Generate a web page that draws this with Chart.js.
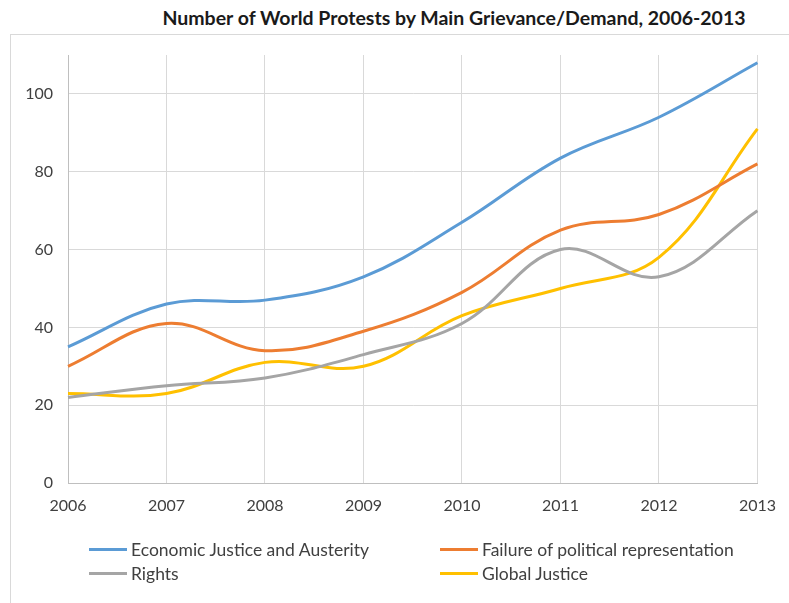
<!DOCTYPE html>
<html>
<head>
<meta charset="utf-8">
<script src="https://cdn.jsdelivr.net/npm/chart.js@4/dist/chart.umd.min.js"></script>
<style>
  body { margin: 0; background: #fff; }
  #wrap { position: relative; width: 789px; height: 603px; overflow: hidden; }
  #frame { position: absolute; left: 10px; top: 34px; width: 800px; height: 600px;
           border-left: 1px solid #d9d9d9; border-top: 1px solid #d9d9d9; }
  #myChart { position: absolute; left: 0; top: 0; }
  #titulo { position: absolute; left: 454px; top: 6px; transform: translateX(-50%);
            white-space: nowrap; font-family: Lato, sans-serif; font-weight: bold;
            font-size: 19.5px; color: #1a1a1a; }
  #legend { position: absolute; left: 89px; top: 539px; width: 690px;
            display: grid; grid-template-columns: 351px auto; row-gap: 3px;
            font-family: Lato, sans-serif; font-size: 17.5px; color: #404040; }
  #legend div { display: flex; align-items: center; height: 21px; }
  #legend span.ln { display: inline-block; width: 38px; height: 3px; margin-right: 4px; }
</style>
</head>
<body>
<div id="wrap">
  <div id="frame"></div>
  <div id="titulo">Number of World Protests by Main Grievance/Demand, 2006-2013</div>
  <canvas id="myChart" width="789" height="603"></canvas>
  <div id="legend"></div>
</div>
<script>
// datos
var years = ['2006', '2007', '2008', '2009', '2010', '2011', '2012', '2013'];
var economica = [35, 46, 47, 53, 67, 83.5, 94, 108];
var representacion = [30, 41, 34, 39, 49, 65, 69, 82];
var derechos = [22, 25, 27, 33, 41, 60, 53, 70];
var justiciaGlobal = [23, 23, 31, 30, 43, 50, 58, 91];
var yTicks = [0, 20, 40, 60, 80, 100];

var series = [
  { label: 'Economic Justice and Austerity', data: economica, color: '#5B9BD5' },
  { label: 'Failure of political representation', data: representacion, color: '#ED7D31' },
  { label: 'Rights', data: derechos, color: '#A5A5A5' },
  { label: 'Global Justice', data: justiciaGlobal, color: '#FFC000' }
];

var datasets = series.map(function(s) {
  return {
    label: s.label,
    data: s.data,
    borderColor: s.color,
    backgroundColor: s.color,
    borderWidth: 3,
    pointRadius: 0,
    tension: 0.38,
    fill: false
  };
});

var ctx = document.getElementById('myChart').getContext('2d');
var myChart = new Chart(ctx, {
  type: 'line',
  data: { labels: years, datasets: datasets },
  options: {
    responsive: false,
    animation: false,
    layout: { padding: { left: 0, right: 29, top: 55, bottom: 80 } },
    plugins: {
      legend: { display: false },
      tooltip: { enabled: false },
      title: { display: false }
    },
    scales: {
      x: {
        offset: false,
        grid: { color: '#d9d9d9', drawTicks: false },
        border: { color: '#bfbfbf', width: 1 },
        ticks: { color: '#404040', padding: 13, maxRotation: 0,
                 font: { family: 'Lato', size: 16 } },
        afterFit: function(scale) { scale.height = 40; }
      },
      y: {
        min: 0,
        max: 110,
        afterBuildTicks: function(scale) {
          scale.ticks = yTicks.concat([110]).map(function(v) { return { value: v }; });
        },
        grid: {
          drawTicks: false,
          color: function(c) { return c.tick && c.tick.value === 110 ? 'rgba(0,0,0,0)' : '#d9d9d9'; }
        },
        border: { color: '#bfbfbf', width: 1 },
        ticks: {
          color: '#404040', padding: 15,
          font: { family: 'Lato', size: 16 },
          callback: function(v) { return yTicks.indexOf(v) >= 0 ? v : ''; }
        },
        afterFit: function(scale) { scale.width = 68; }
      }
    }
  }
});

// leyenda en HTML, dos columnas como el original
var leg = document.getElementById('legend');
myChart.data.datasets.forEach(function(ds) {
  var item = document.createElement('div');
  var ln = document.createElement('span');
  ln.className = 'ln';
  ln.style.background = ds.borderColor;
  item.appendChild(ln);
  item.appendChild(document.createTextNode(ds.label));
  leg.appendChild(item);
});
</script>
</body>
</html>
